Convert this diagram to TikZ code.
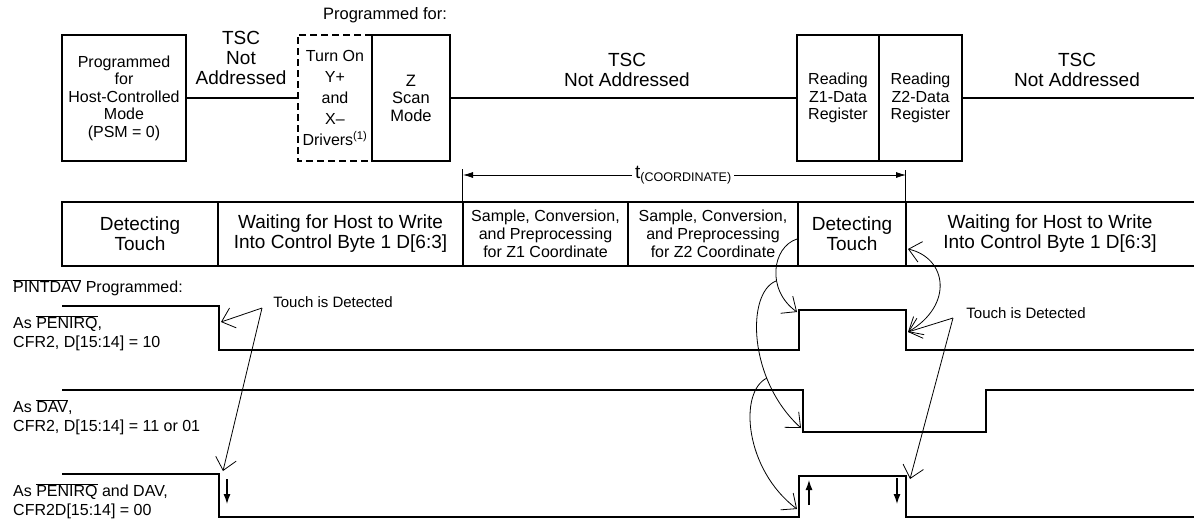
\documentclass[tikz,border=0pt]{standalone}
\usepackage{fontspec}
\setmainfont{Liberation Sans}
\usetikzlibrary{arrows.meta}
\newcommand{\ovl}[1]{$\overline{\mbox{#1}}$}
\begin{document}
\begin{tikzpicture}[x=1pt,y=-1pt,
  box/.style={draw, line width=1.8pt, inner sep=0pt, align=center, minimum height=126pt},
  tbox/.style={draw, line width=1.8pt, inner sep=0pt, align=center, minimum height=64pt},
  lbl/.style={inner sep=0pt, align=center},
  sig/.style={line width=2.3pt, line join=miter},
  conn/.style={line width=1.8pt},
  thinl/.style={line width=0.8pt},
  barb/.style={line width=0.8pt, -{Straight Barb[length=12pt,width=21pt]}},
  dbarb/.style={line width=0.8pt, {Straight Barb[length=12pt,width=21pt]}-{Straight Barb[length=12pt,width=21pt]}},
  solidarr/.style={line width=1.2pt, -{Latex[length=10pt,width=7pt]}},
  big/.style={font=\fontsize{19}{20}\selectfont},
  med/.style={font=\fontsize{16}{17.5}\selectfont},
]
\useasboundingbox (0,0) rectangle (1194,520);

% ---- top row ----
\node[lbl, font=\fontsize{16.5}{17}\selectfont] (pf) at (385,15) {Programmed for:};
\node[box, med, minimum width=124pt] (hc) at (124,98) {Programmed\\for\\Host-Controlled\\Mode\\(PSM = 0)};
\node[lbl, font=\fontsize{16}{21}\selectfont, minimum width=74pt, minimum height=126pt] (tod) at (335,98) {Turn On\\Y+\\and\\X–\\Drivers\textsuperscript{(1)}};
\draw[line width=1.8pt, dash pattern=on 7pt off 4pt] (tod.north east) -- (tod.north west) -- (tod.south west) -- (tod.south east);
\node[box, font=\fontsize{16.5}{17.5}\selectfont, minimum width=78pt] (zs) at (411,98) {Z\\Scan\\Mode};
\node[box, med, minimum width=82pt] (r1) at (838,98) {Reading\\Z1-Data\\Register};
\node[box, med, minimum width=83pt] (r2) at (920.5,98) {Reading\\Z2-Data\\Register};
\coordinate (rend) at (1194,98);
\draw[conn] (hc.east) -- (tod.west);
\draw[conn] (zs.east) -- (r1.west);
\draw[conn] (r2.east) -- (rend);

\node[lbl, big] (tsc1) at (241,58) {TSC\\Not\\Addressed};
\node[lbl, big] (tsc2) at (627,70) {TSC\\Not Addressed};
\node[lbl, big] (tsc3) at (1077,70) {TSC\\Not Addressed};

% ---- timeline row ----
\node[tbox, big, minimum width=156pt] (dt1) at (140,234) {Detecting\\Touch};
\node[tbox, big, minimum width=245pt] (wh1) at (340.5,234) {Waiting for Host to Write\\Into Control Byte 1 D[6:3]};
\node[tbox, font=\fontsize{16}{18}\selectfont, minimum width=165pt] (s1) at (545.5,234) {Sample, Conversion,\\and Preprocessing\\for Z1 Coordinate};
\node[tbox, font=\fontsize{16}{18}\selectfont, minimum width=170pt] (s2) at (713,234) {Sample, Conversion,\\and Preprocessing\\for Z2 Coordinate};
\node[tbox, big, minimum width=108pt] (dt2) at (852,234) {Detecting\\Touch};
\node[lbl, big, minimum width=288pt, minimum height=64pt] (wh2) at (1050,234) {Waiting for Host to Write\\Into Control Byte 1 D[6:3]};
\draw[line width=1.8pt] (wh2.north west) -- (wh2.north east) (wh2.south west) -- (wh2.south east);

% ---- t(COORDINATE) ----
\coordinate (tl) at (463,175);
\coordinate (tr) at (906,175);
\draw[thinl] (s1.north west) -- ++(0,-32);
\draw[thinl] (wh2.north west) -- ++(0,-32);
\node[inner sep=0pt, inner xsep=3pt, anchor=base west] (tc) at (632,178) {{\fontsize{19}{20}\selectfont t}\raisebox{-3.5pt}{\fontsize{12.5}{13}\selectfont (COORDINATE)}};
\draw[thinl, -{Latex[length=10pt,width=6pt]}] (tc.west |- tl) -- (tl);
\draw[thinl, -{Latex[length=10pt,width=6pt]}] (tc.east |- tr) -- (tr);

% ---- signal labels ----
\node[lbl, anchor=west, font=\fontsize{16}{17}\selectfont] (pint) at (13,288) {\ovl{PINTDAV} Programmed:};
\node[lbl, anchor=west, align=left, font=\fontsize{16}{19}\selectfont] (l1) at (13,333) {As \ovl{PENIRQ},\\CFR2, D[15:14] = 10};
\node[lbl, anchor=west, align=left, font=\fontsize{16}{19}\selectfont] (l2) at (13,417) {As \ovl{DAV},\\CFR2, D[15:14] = 11 or 01};
\node[lbl, anchor=west, align=left, font=\fontsize{16}{19}\selectfont] (l3) at (13,501) {As \ovl{PENIRQ} and DAV,\\CFR2D[15:14] = 00};

% ---- waveforms ----
\draw[sig] (62,306) -- (219,306) -- (219,350) -- (799,350) -- (799,310) -- (906,310) -- (906,350) -- (1194,350);
\draw[sig] (62,390) -- (803,390) -- (803,432) -- (986,432) -- (986,390) -- (1194,390);
\draw[sig] (62,474) -- (219,474) -- (219,517) -- (799,517) -- (799,476) -- (906,476) -- (906,517) -- (1194,517);

% ---- annotations ----
\node[lbl, font=\fontsize{15}{16}\selectfont] (td1) at (333,302) {Touch is Detected};
\node[lbl, font=\fontsize{15}{16}\selectfont] (td2) at (1026,313) {Touch is Detected};
\coordinate (a1s) at (262,308);
\coordinate (a1e) at (221,322);
\coordinate (a2e) at (223,471);
\coordinate (a3s) at (953,318);
\coordinate (a3e) at (908,332);
\coordinate (a4e) at (910,479);
\draw[barb] (a1s) -- (a1e);
\draw[barb] (a1s) -- (a2e);
\draw[barb] (a3s) -- (a3e);
\draw[barb] (a3s) -- (a4e);

\coordinate (c1s) at (797,239);
\coordinate (c1e) at (797,312);
\coordinate (c2s) at (776,281);
\coordinate (c2e) at (801,428);
\coordinate (c3s) at (767,378);
\coordinate (c3e) at (797,509);
\coordinate (c4s) at (908,249);
\coordinate (c4e) at (908,332);
\draw[barb] (c1s) .. controls (772,247) and (766,290) .. (c1e);
\draw[barb] (c2s) .. controls (746,293) and (748,380) .. (c2e);
\draw[barb] (c3s) .. controls (738,392) and (745,470) .. (c3e);
\draw[dbarb] (c4s) .. controls (947,258) and (954,305) .. (c4e);

\coordinate (d1a) at (227,479); \coordinate (d1b) at (227,504);
\coordinate (d2a) at (809,505); \coordinate (d2b) at (809,480);
\coordinate (d3a) at (897,478); \coordinate (d3b) at (897,504);
\draw[solidarr] (d1a) -- (d1b);
\draw[solidarr] (d2a) -- (d2b);
\draw[solidarr] (d3a) -- (d3b);
\end{tikzpicture}
\end{document}
